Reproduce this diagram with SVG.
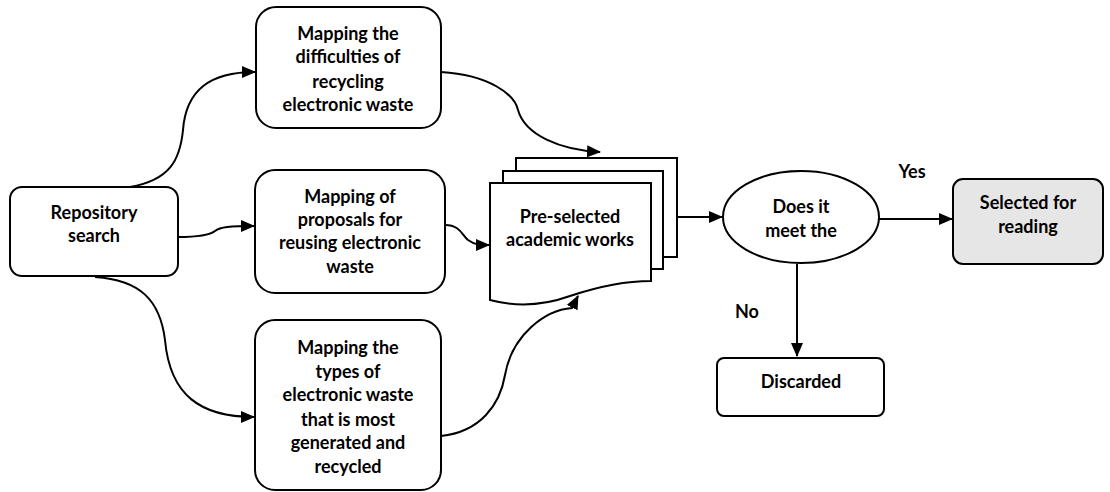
<svg xmlns="http://www.w3.org/2000/svg" width="1110" height="492" viewBox="0 0 1110 492">
<defs>
<marker id="ah" markerWidth="14" markerHeight="12" refX="13" refY="6" orient="auto" markerUnits="userSpaceOnUse">
<path d="M0,0 L14,6 L0,12 Z" fill="#000"/>
</marker>
<style>
.box{fill:#fff;stroke:#000;stroke-width:2}
.t{font-family:Lato,"Liberation Sans",sans-serif;font-weight:bold;font-size:18px;fill:#000;text-anchor:middle}
.c{fill:none;stroke:#000;stroke-width:2}
</style>
</defs>
<rect width="1110" height="492" fill="#fff"/>
<g id="connectors">
<path class="c" d="M130,187 C170,180 180,160 183,130 C186,90 210,72 255,72" marker-end="url(#ah)"/>
<path class="c" d="M178,237 C200,237 210,235 215,231 C220,227 230,226 254,226" marker-end="url(#ah)"/>
<path class="c" d="M95,277 C140,280 160,300 165,340 C170,395 200,417 254,417" marker-end="url(#ah)"/>
<path class="c" d="M441,72 C490,75 515,95 518,110 C525,135 560,150 600,152" marker-end="url(#ah)"/>
<path class="c" d="M445,225 C460,225 462,235 468,240 C475,245 480,245 489,245" marker-end="url(#ah)"/>
<path class="c" d="M441,436 C480,432 500,405 505,375 C512,335 545,310 572,308 L578,296" marker-end="url(#ah)"/>
<path class="c" d="M677,217 L722,217" marker-end="url(#ah)"/>
<path class="c" d="M879,219 L952,219" marker-end="url(#ah)"/>
<path class="c" d="M797,264 L797,356" marker-end="url(#ah)"/>
<text class="t" x="912" y="178">Yes</text>
<text class="t" x="747" y="318">No</text>
</g>
<g id="repo">
<rect class="box" x="10" y="187" width="168" height="89" rx="12"/>
<text class="t" x="94" y="219">Repository</text>
<text class="t" x="94" y="242">search</text>
</g>
<g id="map1">
<rect class="box" x="256" y="7" width="185" height="121" rx="20"/>
<text class="t" x="348" y="40">Mapping the</text>
<text class="t" x="348" y="63">difficulties of</text>
<text class="t" x="348" y="88">recycling</text>
<text class="t" x="348" y="111">electronic waste</text>
</g>
<g id="map2">
<rect class="box" x="255" y="170" width="190" height="123" rx="20"/>
<text class="t" x="350" y="203">Mapping of</text>
<text class="t" x="350" y="226">proposals for</text>
<text class="t" x="350" y="249">reusing electronic</text>
<text class="t" x="350" y="273">waste</text>
</g>
<g id="map3">
<rect class="box" x="255" y="320" width="186" height="170" rx="20"/>
<text class="t" x="348" y="354">Mapping the</text>
<text class="t" x="348" y="378">types of</text>
<text class="t" x="348" y="401">electronic waste</text>
<text class="t" x="348" y="426">that is most</text>
<text class="t" x="348" y="449">generated and</text>
<text class="t" x="348" y="473">recycled</text>
</g>
<g id="docs">
<rect class="box" x="516" y="158" width="161" height="99"/>
<rect class="box" x="503" y="171" width="160" height="98"/>
<path class="box" d="M490,183 H651 V281 C625,281 600,286 570,296 C545,305 520,308 490,300 Z"/>
<text class="t" x="570" y="223">Pre-selected</text>
<text class="t" x="570" y="246">academic works</text>
</g>
<g id="decision">
<ellipse class="box" cx="801" cy="217" rx="78" ry="46"/>
<text class="t" x="801" y="213">Does it</text>
<text class="t" x="801" y="237">meet the</text>
</g>
<g id="selected">
<rect x="953" y="179" width="150" height="85" rx="10" fill="#e6e6e6" stroke="#000" stroke-width="2"/>
<text class="t" x="1028" y="209">Selected for</text>
<text class="t" x="1028" y="233">reading</text>
</g>
<g id="discarded">
<rect class="box" x="717" y="358" width="167" height="58" rx="7"/>
<text class="t" x="801" y="388">Discarded</text>
</g>
</svg>
